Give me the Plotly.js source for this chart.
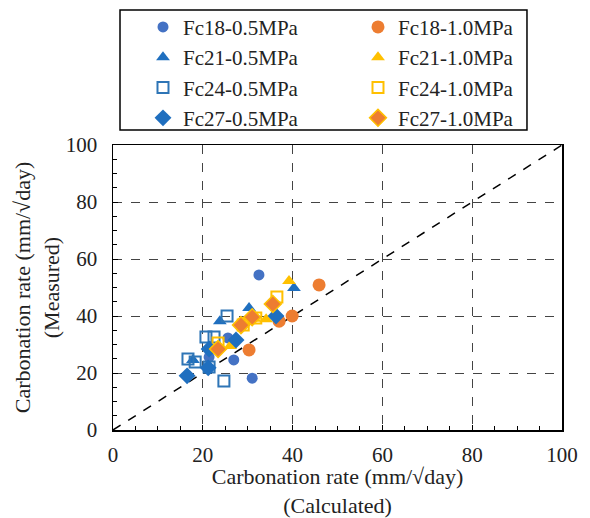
<!DOCTYPE html>
<html>
<head>
<meta charset="utf-8">
<script src="https://cdn.plot.ly/plotly-3.0.1.min.js"></script>
<style>html,body{margin:0;padding:0;background:#fff;}#chart{width:590px;height:518px;}</style>
</head>
<body>
<div id="chart"></div>
<script>
// Fc18
const fc18_05_x = [32.5, 25.6, 26.9, 21.4, 31.0];
const fc18_05_y = [54.4, 32.3, 24.6, 25.6, 18.2];
const fc18_10_x = [45.9, 39.9, 37.0, 30.3];
const fc18_10_y = [50.9, 40.0, 38.2, 28.1];
// Fc21
const fc21_05_x = [40.3, 30.3, 23.8, 17.8];
const fc21_05_y = [49.8, 42.8, 38.2, 24.6];
const fc21_10_x = [39.2, 34.1, 26.1, 31.5];
const fc21_10_y = [52.3, 38.9, 29.5, 39.0];
// Fc24
const fc24_05_x = [25.4, 20.7, 22.5, 16.7, 18.3, 21.4, 24.7];
const fc24_05_y = [40.0, 32.6, 32.6, 24.9, 23.9, 22.1, 17.2];
const fc24_10_x = [36.5, 31.8, 29.0, 23.4];
const fc24_10_y = [46.7, 39.3, 36.8, 30.5];
// Fc27
const fc27_05_x = [16.5, 36.3, 27.4, 21.4, 21.2];
const fc27_05_y = [19.0, 40.0, 31.6, 28.4, 21.8];
const fc27_10_x = [35.6, 31.0, 28.5, 23.4];
const fc27_10_y = [44.2, 39.6, 36.8, 28.4];

const lineX = [0, 100];
const lineY = [0, 100];

const names = ['Fc18-0.5MPa','Fc18-1.0MPa','Fc21-0.5MPa','Fc21-1.0MPa','Fc24-0.5MPa','Fc24-1.0MPa','Fc27-0.5MPa','Fc27-1.0MPa'];

function tr(name, x, y, marker) {
  return {type:'scatter', mode:'markers', name:name, x:x, y:y, marker:marker};
}
const data = [
  {type:'scatter', mode:'lines', x:lineX, y:lineY, showlegend:false, hoverinfo:'skip',
   line:{color:'#000', width:1.5, dash:'dash'}},
  tr(names[0], fc18_05_x, fc18_05_y, {symbol:'circle', size:11, color:'#4472C4'}),
  tr(names[1], fc18_10_x, fc18_10_y, {symbol:'circle', size:13, color:'#ED7D31'}),
  tr(names[2], fc21_05_x, fc21_05_y, {symbol:'triangle-up', size:12, color:'#1F6FBF'}),
  tr(names[3], fc21_10_x, fc21_10_y, {symbol:'triangle-up', size:12, color:'#FFC000'}),
  tr(names[4], fc24_05_x, fc24_05_y, {symbol:'square-open', size:11, color:'#2E75B6', line:{width:2}}),
  tr(names[5], fc24_10_x, fc24_10_y, {symbol:'square-open', size:11, color:'#FFC000', line:{width:2}}),
  tr(names[6], fc27_05_x, fc27_05_y, {symbol:'diamond', size:13, color:'#1F6FBF'}),
  tr(names[7], fc27_10_x, fc27_10_y, {symbol:'diamond', size:13, color:'#ED7D31', line:{color:'#FFC000', width:1.5}})
];

const ff = '"Liberation Serif", "Times New Roman", serif';
const axisCommon = {
  range:[0,100], dtick:20, tick0:0,
  showline:true, linecolor:'#000', linewidth:1.5, mirror:true,
  showgrid:true, gridcolor:'#444', griddash:'dash', gridwidth:1,
  zeroline:false,
  ticks:'inside', ticklen:5, tickcolor:'#000',
  minor:{dtick:5, ticks:'inside', ticklen:4, tickcolor:'#000', showgrid:false},
  tickfont:{family:ff, size:21, color:'#222'},
  fixedrange:true
};
const layout = {
  width:590, height:518,
  margin:{l:113, r:28, t:145, b:88, autoexpand:false},
  paper_bgcolor:'#fff', plot_bgcolor:'#fff',
  font:{family:ff, color:'#222'},
  showlegend:true,
  legend:{
    orientation:'h', x:0.0668, xanchor:'left', y:1.485, yanchor:'top',
    entrywidth:170, entrywidthmode:'pixels',
    font:{family:ff, size:21, color:'#222'},
    borderwidth:0, bgcolor:'rgba(0,0,0,0)',
    traceorder:'normal', itemwidth:30
  },
  shapes:[{type:'rect', xref:'paper', yref:'paper', x0:0.0156, x1:0.922, y0:1.0526, y1:1.4737,
           line:{color:'#000', width:1.5}, fillcolor:'rgba(0,0,0,0)'}],
  xaxis:Object.assign({}, axisCommon, {
    ticklabelstandoff:5,
    title:{text:'Carbonation rate (mm/√day)<br>(Calculated)', font:{family:ff, size:22, color:'#222'}, standoff:4}
  }),
  yaxis:Object.assign({}, axisCommon, {
    ticklabelstandoff:10,
    title:{text:'Carbonation rate (mm/√day)<br>(Measured)', font:{family:ff, size:22, color:'#222'}, standoff:0}
  })
};
Plotly.newPlot('chart', data, layout, {displayModeBar:false, staticPlot:true});
</script>
</body>
</html>
